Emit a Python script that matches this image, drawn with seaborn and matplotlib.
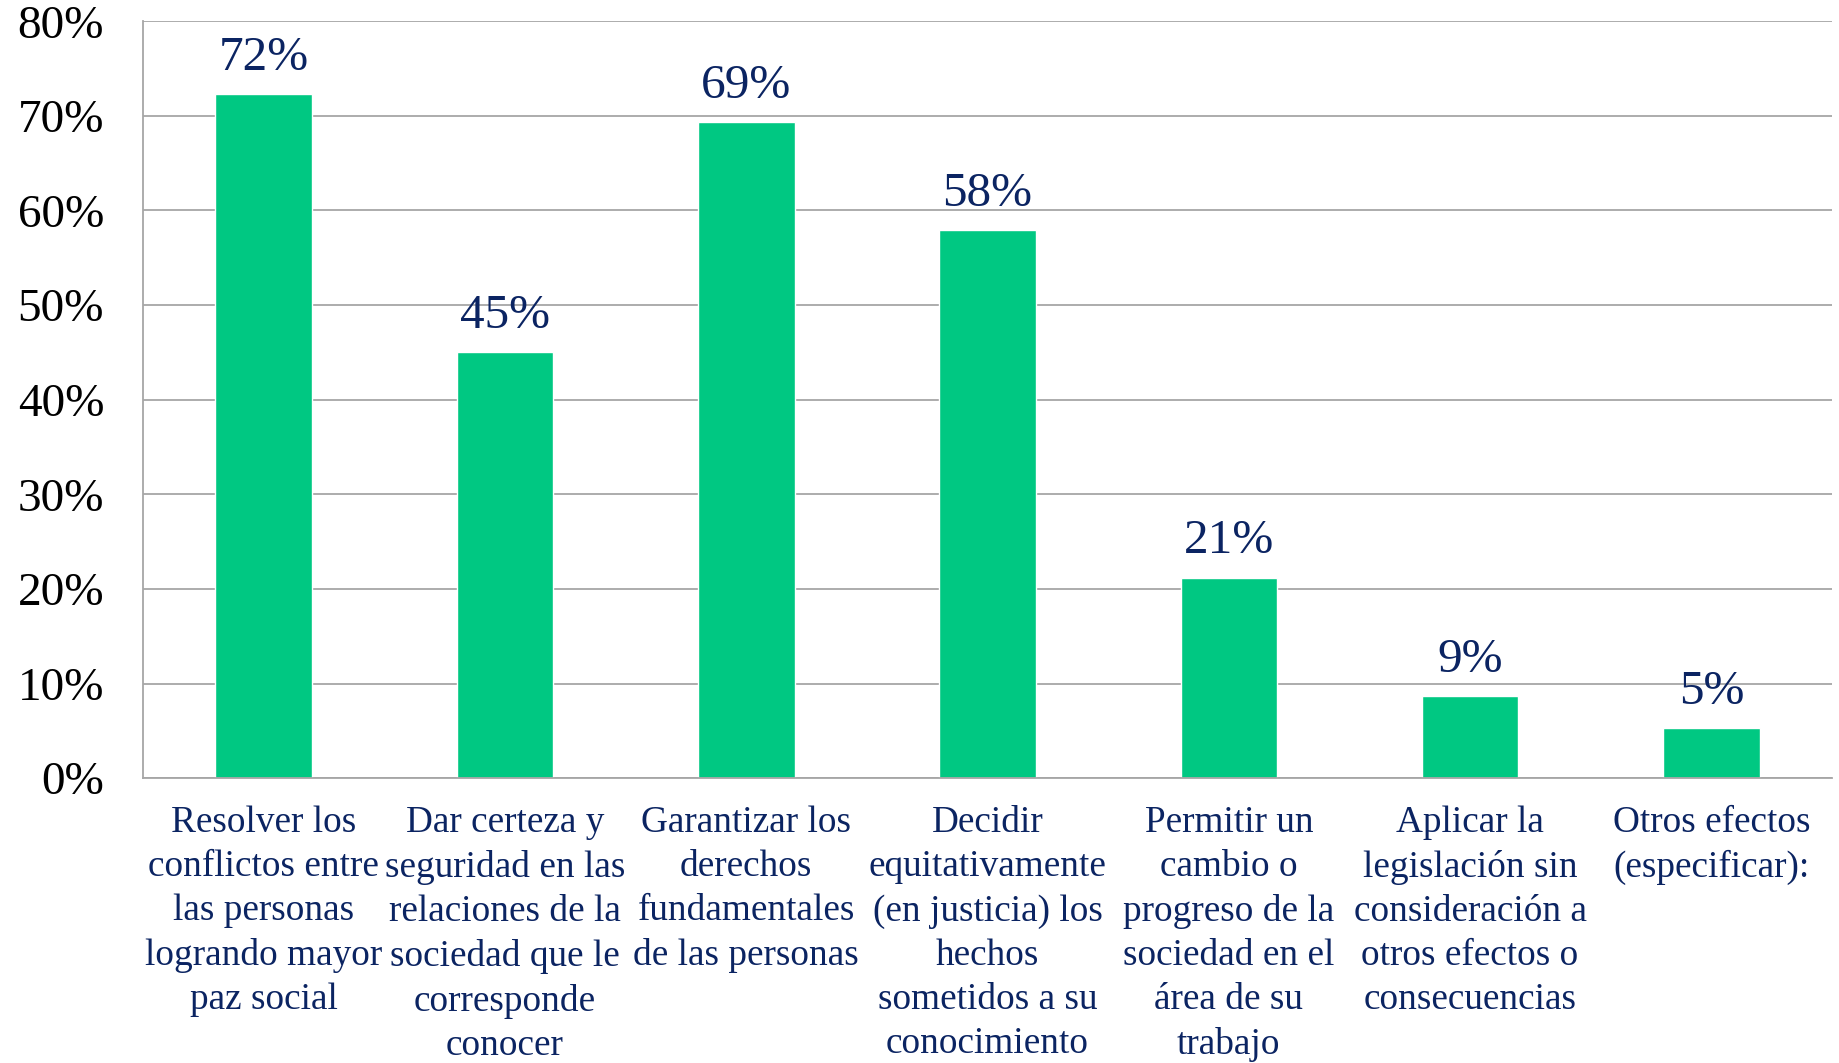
import numpy as np
import matplotlib
matplotlib.use("Agg")
import matplotlib.pyplot as plt
import seaborn as sns
import pandas as pd

categorias = [
    "Resolver los\nconflictos entre\nlas personas\nlogrando mayor\npaz social",
    "Dar certeza y\nseguridad en las\nrelaciones de la\nsociedad que le\ncorresponde\nconocer",
    "Garantizar los\nderechos\nfundamentales\nde las personas",
    "Decidir\nequitativamente\n(en justicia) los\nhechos\nsometidos a su\nconocimiento",
    "Permitir un\ncambio o\nprogreso de la\nsociedad en el\nárea de su\ntrabajo",
    "Aplicar la\nlegislación sin\nconsideración a\notros efectos o\nconsecuencias",
    "Otros efectos\n(especificar):",
]
valores = [72.3, 45.0, 69.3, 57.9, 21.2, 8.7, 5.3]
etiquetas = ["72%", "45%", "69%", "58%", "21%", "9%", "5%"]
yticks = [0, 10, 20, 30, 40, 50, 60, 70, 80]

verde = "#00C882"
azul = "#0B2462"
gris = "#A6A6A6"

sns.set_style("white")
plt.rcParams['font.family'] = ['Liberation Serif', 'DejaVu Serif']

df = pd.DataFrame({"cat": categorias, "val": valores})

fig = plt.figure(figsize=(18.39, 10.63), dpi=100)
ax = fig.add_axes([0.0778, 0.268, 0.9184, 0.712])

sns.barplot(data=df, x="cat", y="val", color=verde, saturation=1, width=0.40, ax=ax)

for i, (v, t) in enumerate(zip(valores, etiquetas)):
    ax.text(i, v + 1.5, t, ha="center", va="bottom", fontsize=35.5, color=azul)

ax.set_xlim(-0.5, len(categorias) - 0.5)
ax.set_ylim(0, 80)
ax.set_yticks(yticks)
ax.set_yticklabels([f"{y}%" for y in yticks], fontsize=34, color="black")
ax.yaxis.grid(True, color=gris, linewidth=1.3)
ax.set_axisbelow(True)

ax.set_xticks(range(len(categorias)))
ax.set_xticklabels(categorias, fontsize=26.8, color=azul, linespacing=1.36, va="top")
ax.set_xticks(np.arange(-0.5, len(categorias), 1), minor=True)
ax.tick_params(axis="x", which="major", length=0, pad=20)
ax.tick_params(axis="x", which="minor", length=10, width=1.3, color=gris, direction="out")
ax.tick_params(axis="y", length=12, width=1.3, color=gris, direction="out", pad=16)

ax.set_xlabel("")
ax.set_ylabel("")
for s in ["top", "right"]:
    ax.spines[s].set_visible(False)
for s in ["left", "bottom"]:
    ax.spines[s].set_color(gris)
    ax.spines[s].set_linewidth(1.3)

fig.savefig("out.png", dpi=100)
